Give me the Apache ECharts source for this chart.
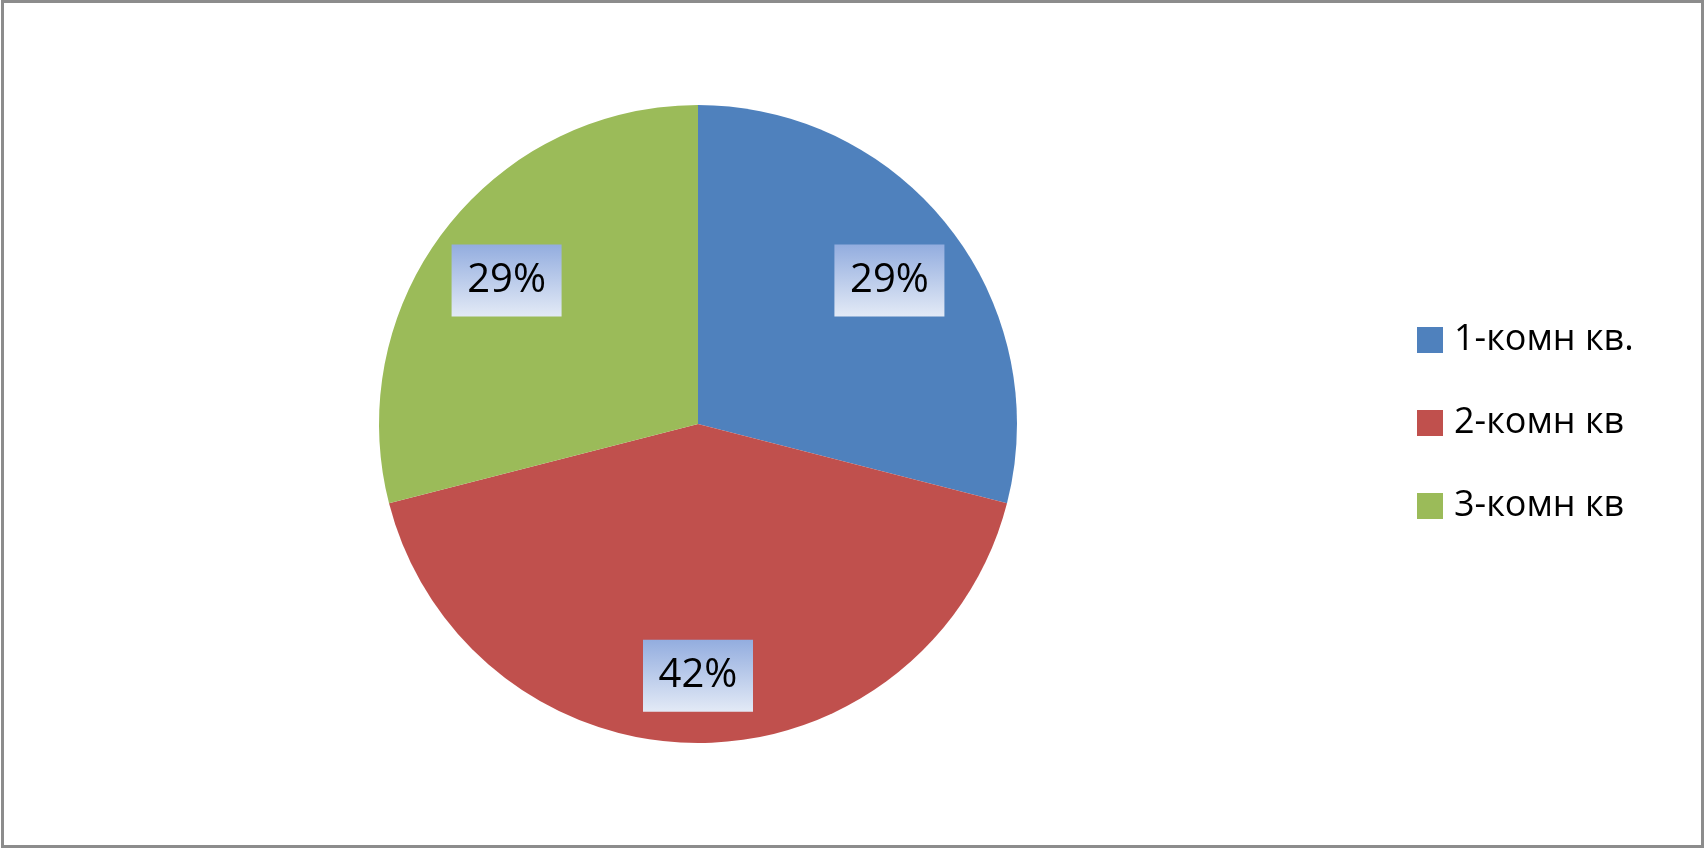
<!DOCTYPE html>
<html>
<head>
<meta charset="utf-8">
<script src="https://cdn.jsdelivr.net/npm/echarts@6/dist/echarts.min.js"></script>
<style>
html,body{margin:0;padding:0;background:#fff;}
#chart{width:1705px;height:857px;}
</style>
</head>
<body>
<div id="chart"></div>
<script>
const categories = ['1-комн кв.', '2-комн кв', '3-комн кв'];
const values = [29, 42, 29];
const labels = ['29%', '42%', '29%'];
const colors = ['#4f81bd', '#c0504d', '#9bbb59'];

const R = 319;
const center = [698, 424];

const labelBox = {
  show: true,
  position: 'inside',
  formatter: function (p) { return labels[p.dataIndex]; },
  color: '#000',
  fontFamily: 'Open Sans',
  fontSize: 40,
  width: 110,
  height: 72,
  lineHeight: 72,
  align: 'center',
  verticalAlign: 'middle',
  backgroundColor: {
    type: 'linear', x: 0, y: 0, x2: 0, y2: 1,
    colorStops: [{offset: 0, color: '#93addf'}, {offset: 1, color: '#e3eaf6'}]
  }
};

function overlay(radiusFactor, showIdx, dy) {
  return {
    type: 'pie',
    silent: true,
    center: center,
    radius: [0, R * radiusFactor],
    startAngle: 90,
    clockwise: true,
    legendHoverLink: false,
    data: categories.map((c, i) => ({
      name: c,
      value: values[i],
      itemStyle: {color: 'rgba(0,0,0,0)'},
      label: Object.assign({}, labelBox, {show: showIdx.indexOf(i) >= 0})
    })),
    labelLayout: {dy: dy},
    labelLine: {show: false},
    tooltip: {show: false},
    emphasis: {disabled: true}
  };
}

const chart = echarts.init(document.getElementById('chart'), null, {renderer: 'canvas'});
chart.setOption({
  animation: false,
  color: colors,
  graphic: [{
    type: 'rect',
    shape: {x: 2.5, y: 1.5, width: 1700, height: 845},
    style: {fill: 'none', stroke: '#8c8c8c', lineWidth: 3},
    silent: true
  }],
  legend: {
    orient: 'vertical',
    left: 1417,
    top: 320,
    padding: 0,
    itemWidth: 26,
    itemHeight: 26,
    itemGap: 43,
    icon: 'rect',
    data: categories,
    textStyle: {
      fontFamily: 'Open Sans',
      fontSize: 36,
      lineHeight: 40,
      color: '#000',
      padding: [0, 0, 0, 6]
    }
  },
  series: [
    {
      type: 'pie',
      center: center,
      radius: [0, R],
      startAngle: 90,
      clockwise: true,
      data: categories.map((c, i) => ({name: c, value: values[i]})),
      itemStyle: {borderWidth: 0},
      label: {show: false},
      labelLine: {show: false}
    },
    overlay(1.5, [0, 2], 5),
    overlay(1.56, [1], 0)
  ]
});
</script>
</body>
</html>
